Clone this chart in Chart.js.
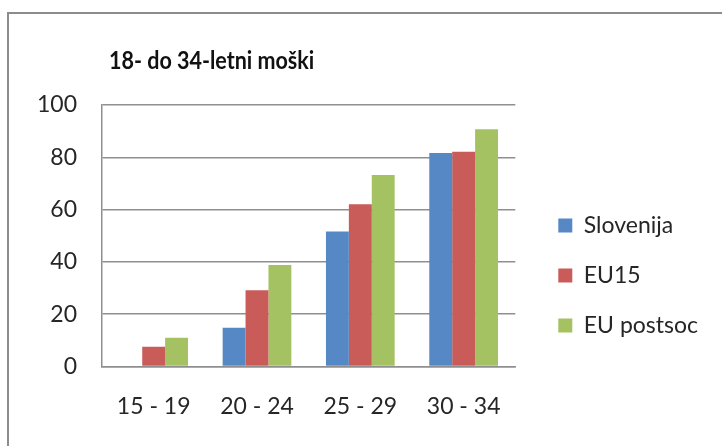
<!DOCTYPE html>
<html>
<head>
<meta charset="utf-8">
<script src="https://cdn.jsdelivr.net/npm/chart.js@4.4.1/dist/chart.umd.min.js"></script>
<style>
  html, body { margin: 0; padding: 0; background: #fff; }
  #wrap { position: relative; width: 722px; height: 446px; overflow: hidden; }
  #frame { position: absolute; left: 7px; top: 12px; width: 760px; height: 480px;
           border-left: 2px solid #8c8c8c; border-top: 2px solid #8c8c8c; }
  #myChart { position: absolute; left: 0; top: 0; }
</style>
</head>
<body>
<div id="wrap">
  <div id="frame"></div>
  <canvas id="myChart" width="722" height="446"></canvas>
</div>
<script>
const chartTitle = '18- do 34-letni moški';
const categories = ['15 - 19', '20 - 24', '25 - 29', '30 - 34'];
const slovenija = [0, 14.8, 51.6, 81.6];
const eu15 = [7.5, 29.1, 62.0, 82.1];
const euPostsoc = [11.0, 38.8, 73.2, 90.7];

const gridColor = '#8f8f8f';
const textColor = '#262626';

// title drawn by hand, it sits left of centre in the original
// (squeezed a bit sideways, the original font is narrower than Lato)
const titlePlugin = {
  id: 'leftTitle',
  afterDraw(chart) {
    const ctx = chart.ctx;
    ctx.save();
    ctx.font = 'bold 25px Lato';
    ctx.fillStyle = '#111';
    ctx.textBaseline = 'alphabetic';
    ctx.textAlign = 'left';
    ctx.translate(chart.chartArea.left + 7, 69);
    ctx.scale(0.86, 1);
    ctx.fillText(chartTitle, 0, 0);
    ctx.restore();
  }
};

const data = {
  labels: categories,
  datasets: [
    { label: 'Slovenija', data: slovenija, backgroundColor: '#5688c5' },
    { label: 'EU15', data: eu15, backgroundColor: '#c95b58' },
    { label: 'EU postsoc', data: euPostsoc, backgroundColor: '#a5c263' }
  ]
};

const config = {
  type: 'bar',
  data: data,
  plugins: [titlePlugin],
  options: {
    responsive: false,
    animation: false,
    events: [],
    layout: { padding: { left: 12, top: 105, right: 14, bottom: 0 } },
    datasets: { bar: { categoryPercentage: 0.665, barPercentage: 1 } },
    scales: {
      x: {
        grid: { display: false, drawTicks: false },
        border: { display: true, color: gridColor, width: 1.5 },
        ticks: { padding: 26, color: textColor, font: { family: 'Lato', size: 23 } }
      },
      y: {
        min: 0,
        max: 100,
        ticks: { stepSize: 20, padding: 25, color: textColor, font: { family: 'Lato', size: 23 } },
        grid: { color: gridColor, lineWidth: 1.5, drawTicks: false },
        border: { display: true, color: gridColor, width: 1.5 }
      },
      // empty axis, only keeps a gap between plot and legend
      gap: {
        position: 'right',
        grid: { display: false, drawTicks: false },
        border: { display: false },
        ticks: { display: false },
        afterFit: s => { s.width = 16; }
      }
    },
    plugins: {
      title: { display: false },
      tooltip: { enabled: false },
      legend: {
        position: 'right',
        align: 'center',
        maxWidth: 300,
        labels: {
          boxWidth: 14,
          boxHeight: 14,
          padding: 27,
          color: textColor,
          font: { family: 'Lato', size: 23 }
        }
      }
    }
  }
};

const myChart = new Chart(document.getElementById('myChart'), config);
</script>
</body>
</html>
